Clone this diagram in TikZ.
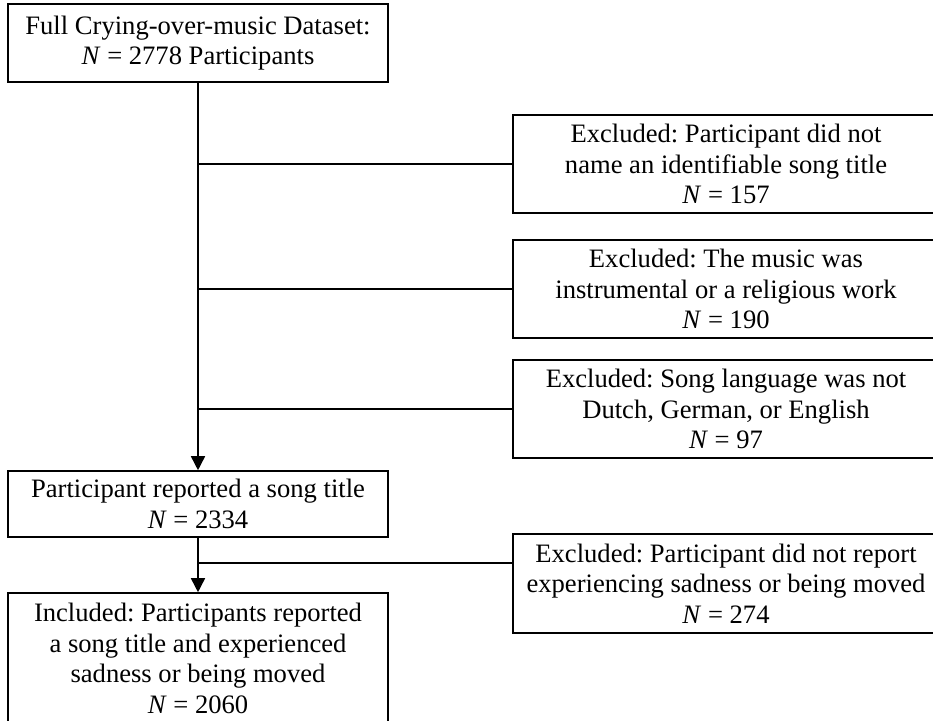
\documentclass[tikz,border=0pt]{standalone}
\usepackage{fontspec}
\setmainfont{Liberation Serif}
\usetikzlibrary{arrows.meta}
\frenchspacing
\tikzset{
  box/.style={draw, line width=1.6pt, inner sep=0pt, align=center,
    font=\fontsize{26.6pt}{30.5pt}\selectfont\frenchspacing},
  leftbox/.style={box, minimum width=380pt},
  rightbox/.style={box, minimum width=426pt, minimum height=98pt},
  conn/.style={line width=1.6pt},
  arr/.style={conn, -{Triangle[width=14pt,length=14pt]}}
}
\begin{document}
\begin{tikzpicture}[x=1pt,y=-1pt]
\useasboundingbox (0,0) rectangle (933,720);
\clip (0,0) rectangle (933,720);
\node[leftbox, minimum height=78pt] (b1) at (198,43)
  {Full Crying-over-music Dataset:\\\textit{N} = 2778 Participants};
\node[rightbox] (r1) at (726,164)
  {Excluded: Participant did not\\name an identifiable song title\\\textit{N} = 157};
\node[rightbox] (r2) at (726,289)
  {Excluded: The music was\\instrumental or a religious work\\\textit{N} = 190};
\node[rightbox] (r3) at (726,409)
  {Excluded: Song language was not\\Dutch, German, or English\\\textit{N} = 97};
\node[leftbox, minimum height=66pt] (b2) at (198,504)
  {Participant reported a song title\\\textit{N} = 2334};
\node[rightbox, minimum height=99pt] (r4) at (726,583.5)
  {Excluded: Participant did not report\\experiencing sadness or being moved\\\textit{N} = 274};
\node[leftbox, minimum height=131pt] (b3) at (198,658.5)
  {Included: Participants reported\\a song title and experienced\\sadness or being moved\\\textit{N} = 2060};
\coordinate (j4) at (198,563);
\draw[arr] (b1.south) -- (b2.north);
\draw[arr] (b2.south) -- (b3.north);
\draw[conn] (b1.south |- r1.west) -- (r1.west);
\draw[conn] (b1.south |- r2.west) -- (r2.west);
\draw[conn] (b1.south |- r3.west) -- (r3.west);
\draw[conn] (j4) -- (j4 -| r4.west);
\end{tikzpicture}
\end{document}
